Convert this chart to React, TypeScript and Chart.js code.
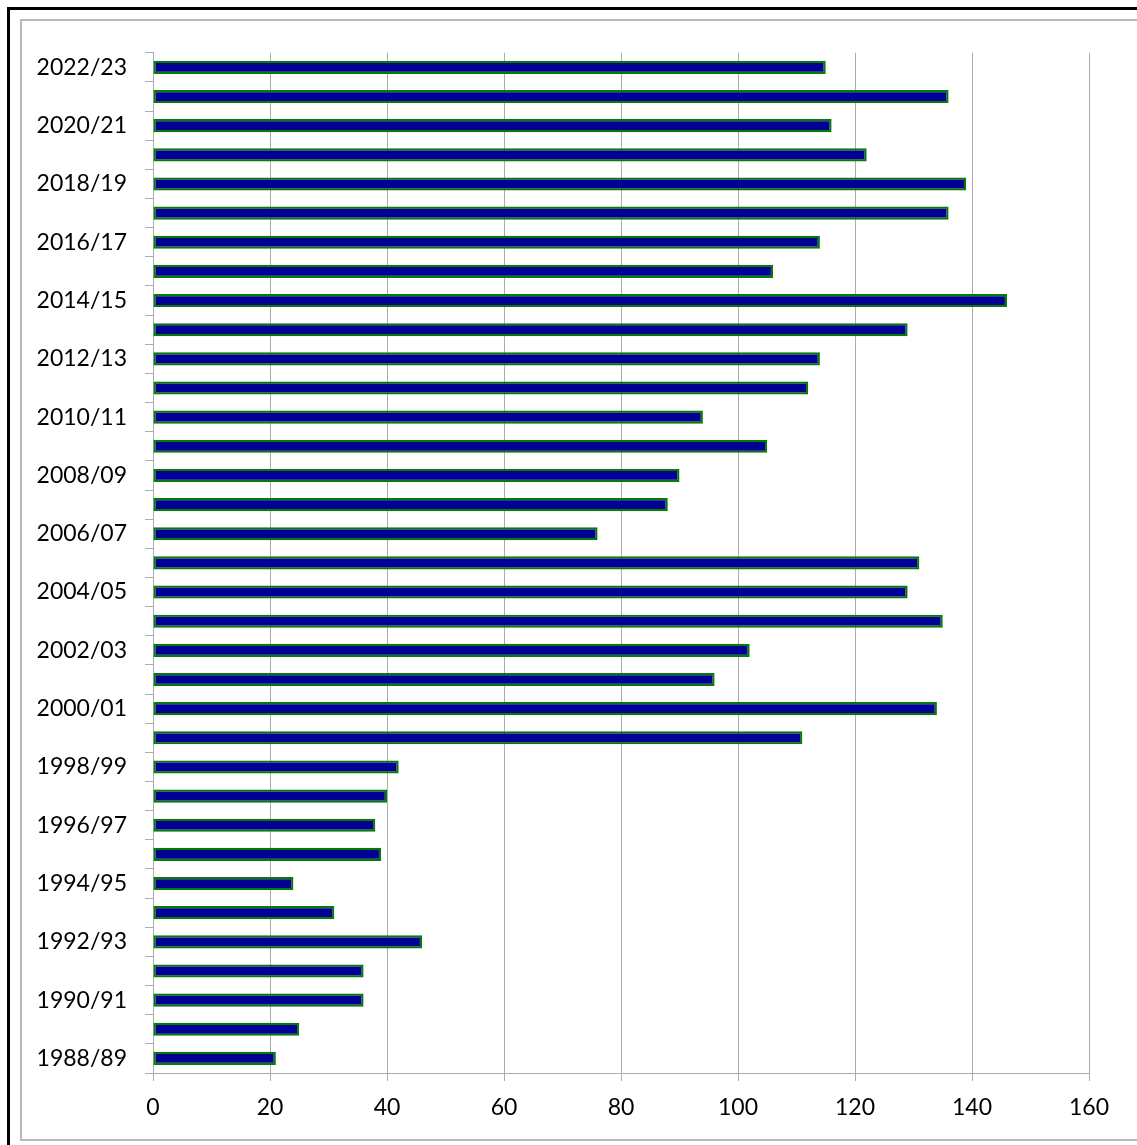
import React, { useEffect, useRef } from "react";
import { Chart, registerables } from "chart.js";

Chart.register(...registerables);

const seasons: string[] = [
  "1988/89", "1989/90", "1990/91", "1991/92", "1992/93", "1993/94", "1994/95",
  "1995/96", "1996/97", "1997/98", "1998/99", "1999/00", "2000/01", "2001/02",
  "2002/03", "2003/04", "2004/05", "2005/06", "2006/07", "2007/08", "2008/09",
  "2009/10", "2010/11", "2011/12", "2012/13", "2013/14", "2014/15", "2015/16",
  "2016/17", "2017/18", "2018/19", "2019/20", "2020/21", "2021/22", "2022/23",
];

const values: number[] = [
  21, 25, 36, 36, 46, 31, 24,
  39, 38, 40, 42, 111, 134, 96,
  102, 135, 129, 131, 76, 88, 90,
  105, 94, 112, 114, 129, 146, 106,
  114, 136, 139, 122, 116, 136, 115,
];

const xMin = 0;
const xMax = 160;
const xStep = 20;

const FONT = "Lato, 'Liberation Sans', sans-serif";
const GRID = "#acacac";

export default function App() {
  const canvasRef = useRef<HTMLCanvasElement | null>(null);

  useEffect(() => {
    const canvas = canvasRef.current;
    if (!canvas) return;
    const chart = new Chart(canvas, {
      type: "bar",
      data: {
        labels: seasons,
        datasets: [
          {
            data: values,
            backgroundColor: "#000094",
            borderColor: "#067a06",
            borderWidth: 2.2,
            borderSkipped: false,
            categoryPercentage: 1,
            barPercentage: 0.45,
          },
        ],
      },
      options: {
        indexAxis: "y",
        responsive: false,
        animation: false,
        layout: { padding: { top: 29, right: 57, left: 0, bottom: 0 } },
        plugins: {
          legend: { display: false },
          tooltip: { enabled: false },
          title: { display: false },
        },
        scales: {
          x: {
            type: "linear",
            min: xMin,
            max: xMax,
            ticks: {
              stepSize: xStep,
              color: "#000",
              font: { family: FONT, size: 23 },
              padding: 13,
            },
            grid: {
              color: GRID,
              lineWidth: 1,
              drawTicks: true,
              tickLength: 8,
            },
            border: { color: GRID, width: 1 },
            afterFit: (scale: any) => {
              scale.height = 66;
            },
          },
          y: {
            type: "category",
            reverse: true,
            offset: true,
            ticks: {
              autoSkip: false,
              color: "#000",
              font: { family: FONT, size: 23 },
              padding: 18,
              callback: (_v: any, idx: number) => (idx % 2 === 0 ? seasons[idx] : ""),
            },
            grid: {
              offset: true,
              drawOnChartArea: false,
              drawTicks: true,
              tickLength: 8,
              color: GRID,
              lineWidth: 1,
            },
            border: { color: GRID, width: 1 },
            afterFit: (scale: any) => {
              scale.width = 131;
            },
          },
        },
      },
    });
    return () => chart.destroy();
  }, []);

  return (
    <div
      style={{
        position: "fixed",
        left: 0,
        top: 0,
        width: 1137,
        height: 1145,
        overflow: "hidden",
        background: "#fff",
      }}
    >
      <div
        style={{
          position: "absolute",
          left: 7,
          top: 7,
          width: 1150,
          height: 1160,
          border: "3px solid #000",
          background: "#fff",
        }}
      >
        <div
          style={{
            position: "absolute",
            left: 10,
            top: 9,
            width: 1140,
            height: 1118,
            border: "2px solid #b8b8b8",
            background: "#fff",
          }}
        >
          <canvas
            ref={canvasRef}
            width={1124}
            height={1118}
            style={{ display: "block", width: 1124, height: 1118 }}
          />
        </div>
      </div>
    </div>
  );
}
